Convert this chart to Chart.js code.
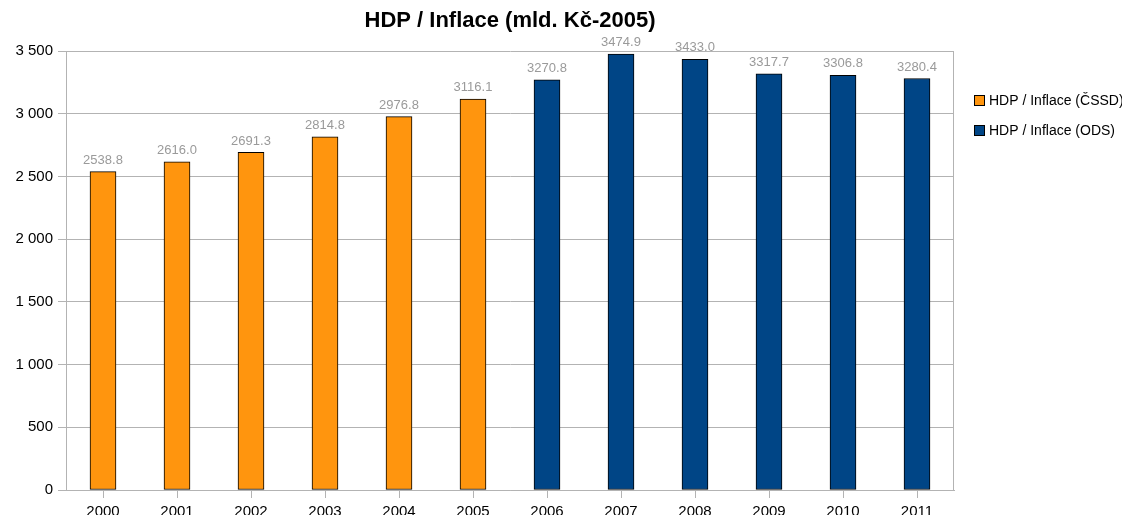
<!DOCTYPE html>
<html>
<head>
<meta charset="utf-8">
<script src="https://cdn.jsdelivr.net/npm/chart.js@4/dist/chart.umd.min.js"></script>
<style>
html,body{margin:0;padding:0;background:#fff;overflow:hidden;}
#wrap{position:relative;width:1122px;height:515px;}
</style>
</head>
<body>
<div id="wrap"><canvas id="c" width="1122" height="515"></canvas></div>
<script>
const years = ['2000','2001','2002','2003','2004','2005','2006','2007','2008','2009','2010','2011'];
const cssdValues = [2538.8, 2616.0, 2691.3, 2814.8, 2976.8, 3116.1, null, null, null, null, null, null];
const odsValues = [null, null, null, null, null, null, 3270.8, 3474.9, 3433.0, 3317.7, 3306.8, 3280.4];
const seriesNames = ['HDP / Inflace (ČSSD)', 'HDP / Inflace (ODS)'];
const seriesColors = ['#ff950e', '#004586'];
const titleText = 'HDP / Inflace (mld. Kč-2005)';
const yTicks = [0, 500, 1000, 1500, 2000, 2500, 3000, 3500];

const FONT = '"Liberation Sans", Arial, sans-serif';
const GRID = '#b3b3b3';

const extras = {
  id: 'extras',
  afterDatasetsDraw(chart) {
    const ctx = chart.ctx;
    const a = chart.chartArea;
    ctx.save();
    // right border
    ctx.strokeStyle = GRID;
    ctx.lineWidth = 1;
    ctx.beginPath();
    ctx.moveTo(Math.round(a.right) - 0.5, a.top);
    ctx.lineTo(Math.round(a.right) - 0.5, a.bottom);
    ctx.stroke();
    // data labels
    ctx.font = '13px ' + FONT;
    ctx.fillStyle = '#9a9a9a';
    ctx.textAlign = 'center';
    ctx.textBaseline = 'bottom';
    chart.data.datasets.forEach((ds, di) => {
      const meta = chart.getDatasetMeta(di);
      meta.data.forEach((el, i) => {
        const v = ds.data[i];
        if (v === null || v === undefined) return;
        ctx.fillText(v.toFixed(1), el.x, el.y - 5);
      });
    });
    // title
    ctx.font = 'bold 22px ' + FONT;
    ctx.fillStyle = '#000';
    ctx.textBaseline = 'middle';
    ctx.fillText(titleText, (a.left + a.right) / 2, 21);
    // legend
    ctx.font = '14px ' + FONT;
    ctx.textAlign = 'left';
    seriesNames.forEach((n, i) => {
      const y = 100 + i * 30;
      ctx.fillStyle = seriesColors[i];
      ctx.fillRect(974, y - 5, 11, 11);
      ctx.strokeStyle = '#000';
      ctx.strokeRect(974.5, y - 4.5, 10, 10);
      ctx.fillStyle = '#000';
      ctx.fillText(n, 989, y + 1);
    });
    ctx.restore();
  }
};

const barStyle = { borderColor: '#000', borderWidth: 1, borderSkipped: false, barThickness: 26 };

new Chart(document.getElementById('c'), {
  type: 'bar',
  data: {
    labels: years,
    datasets: [
      Object.assign({ label: seriesNames[0], data: cssdValues, backgroundColor: seriesColors[0] }, barStyle),
      Object.assign({ label: seriesNames[1], data: odsValues, backgroundColor: seriesColors[1] }, barStyle)
    ]
  },
  options: {
    responsive: false,
    animation: false,
    layout: { padding: { top: 51, right: 168, left: 0, bottom: 0 } },
    plugins: { legend: { display: false }, title: { display: false }, tooltip: { enabled: false } },
    scales: {
      x: {
        stacked: true,
        grid: { drawOnChartArea: false, color: GRID, tickLength: 8, offset: false },
        border: { color: GRID },
        ticks: { color: '#000', font: { family: FONT, size: 15 }, padding: 5, maxRotation: 0 },
        afterFit(s) { s.height = 25; }
      },
      y: {
        stacked: false,
        min: 0, max: 3500,
        afterBuildTicks(s) { s.ticks = yTicks.map(v => ({ value: v })); },
        grid: { color: GRID, tickLength: 8 },
        border: { color: GRID },
        ticks: {
          color: '#000', font: { family: FONT, size: 15 }, padding: 5,
          callback: v => String(v).replace(/\B(?=(\d{3})+(?!\d))/g, ' ')
        },
        afterFit(s) { s.width = 66; }
      }
    }
  },
  plugins: [extras]
});
</script>
</body>
</html>
